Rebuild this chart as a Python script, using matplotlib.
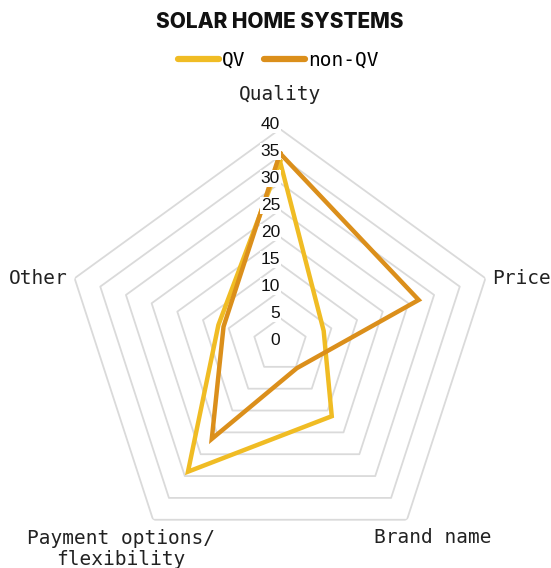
import numpy as np
import matplotlib
matplotlib.use("Agg")
import matplotlib.pyplot as plt
from matplotlib.lines import Line2D

categories = ["Quality", "Price", "Brand name", "Payment options/\nflexibility", "Other"]
qv = [34, 8.5, 16.3, 29, 12]
non_qv = [35.5, 27, 5.3, 21.5, 11]
series_names = ["QV", "non-QV"]
tick_values = [0, 5, 10, 15, 20, 25, 30, 35, 40]

QV_COLOR = "#F0BC24"
NONQV_COLOR = "#DB8F1B"
GRID_COLOR = "#DADADA"
MONO = "DejaVu Sans Mono"

n = len(categories)
angles = np.linspace(0, 2 * np.pi, n, endpoint=False)
closed = np.append(angles, angles[0])

fig = plt.figure(figsize=(5.51, 5.68), dpi=100)
ax = fig.add_axes([0.1162, 0.0123, 0.784, 0.7606], projection="polar")
ax.set_theta_offset(np.pi / 2)
ax.set_theta_direction(-1)
ax.set_ylim(0, 40)
ax.grid(False)
ax.spines["polar"].set_visible(False)
ax.set_xticks([])
ax.set_yticks([])
ax.patch.set_alpha(0)

# pentagon rings
for v in tick_values[1:]:
    ax.plot(closed, [v] * (n + 1), color=GRID_COLOR, lw=1.3, zorder=1)

# data
ax.plot(closed, qv + qv[:1], color=QV_COLOR, lw=3.2, solid_joinstyle="miter", zorder=3)
ax.plot(closed, non_qv + non_qv[:1], color=NONQV_COLOR, lw=3.2, solid_joinstyle="miter", zorder=4)

# tick labels up the Quality spoke
for v in tick_values:
    ax.annotate(str(v), xy=(0, v), xytext=(0, 3), textcoords="offset points",
                ha="right", va="center", fontsize=12.5, family="Liberation Sans",
                color="#111111", zorder=5,
                bbox=dict(boxstyle="square,pad=0.05", fc="white", ec="none"))

# category labels
label_pos = [(0, 46.3, "center", "center"),
             (np.deg2rad(72.5), 41.2, "left", "center"),
             (np.deg2rad(141.6), 45.6, "center", "center"),
             (np.deg2rad(217.9), 47.9, "center", "center"),
             (np.deg2rad(287.5), 41.2, "right", "center")]
for name, (th, r, ha, va) in zip(categories, label_pos):
    ax.text(th, r, name, ha=ha, va=va, fontsize=14, family=MONO,
            color="#222222", multialignment="center", linespacing=1.1,
            clip_on=False)

fig.text(0.508, 0.961, "SOLAR HOME SYSTEMS", ha="center", va="center",
         fontsize=15, fontweight="heavy", family="Inter", color="#111111")

handles = [Line2D([], [], color=QV_COLOR, lw=4.5, solid_capstyle="round"),
           Line2D([], [], color=NONQV_COLOR, lw=4.5, solid_capstyle="round")]
fig.legend(handles, series_names, loc="center", bbox_to_anchor=(0.505, 1 - 60 / 568),
           ncol=2, frameon=False, handlelength=2.1, handletextpad=0.12,
           columnspacing=1.0, prop={"family": MONO, "size": 14})

fig.savefig("out.png", dpi=100)
